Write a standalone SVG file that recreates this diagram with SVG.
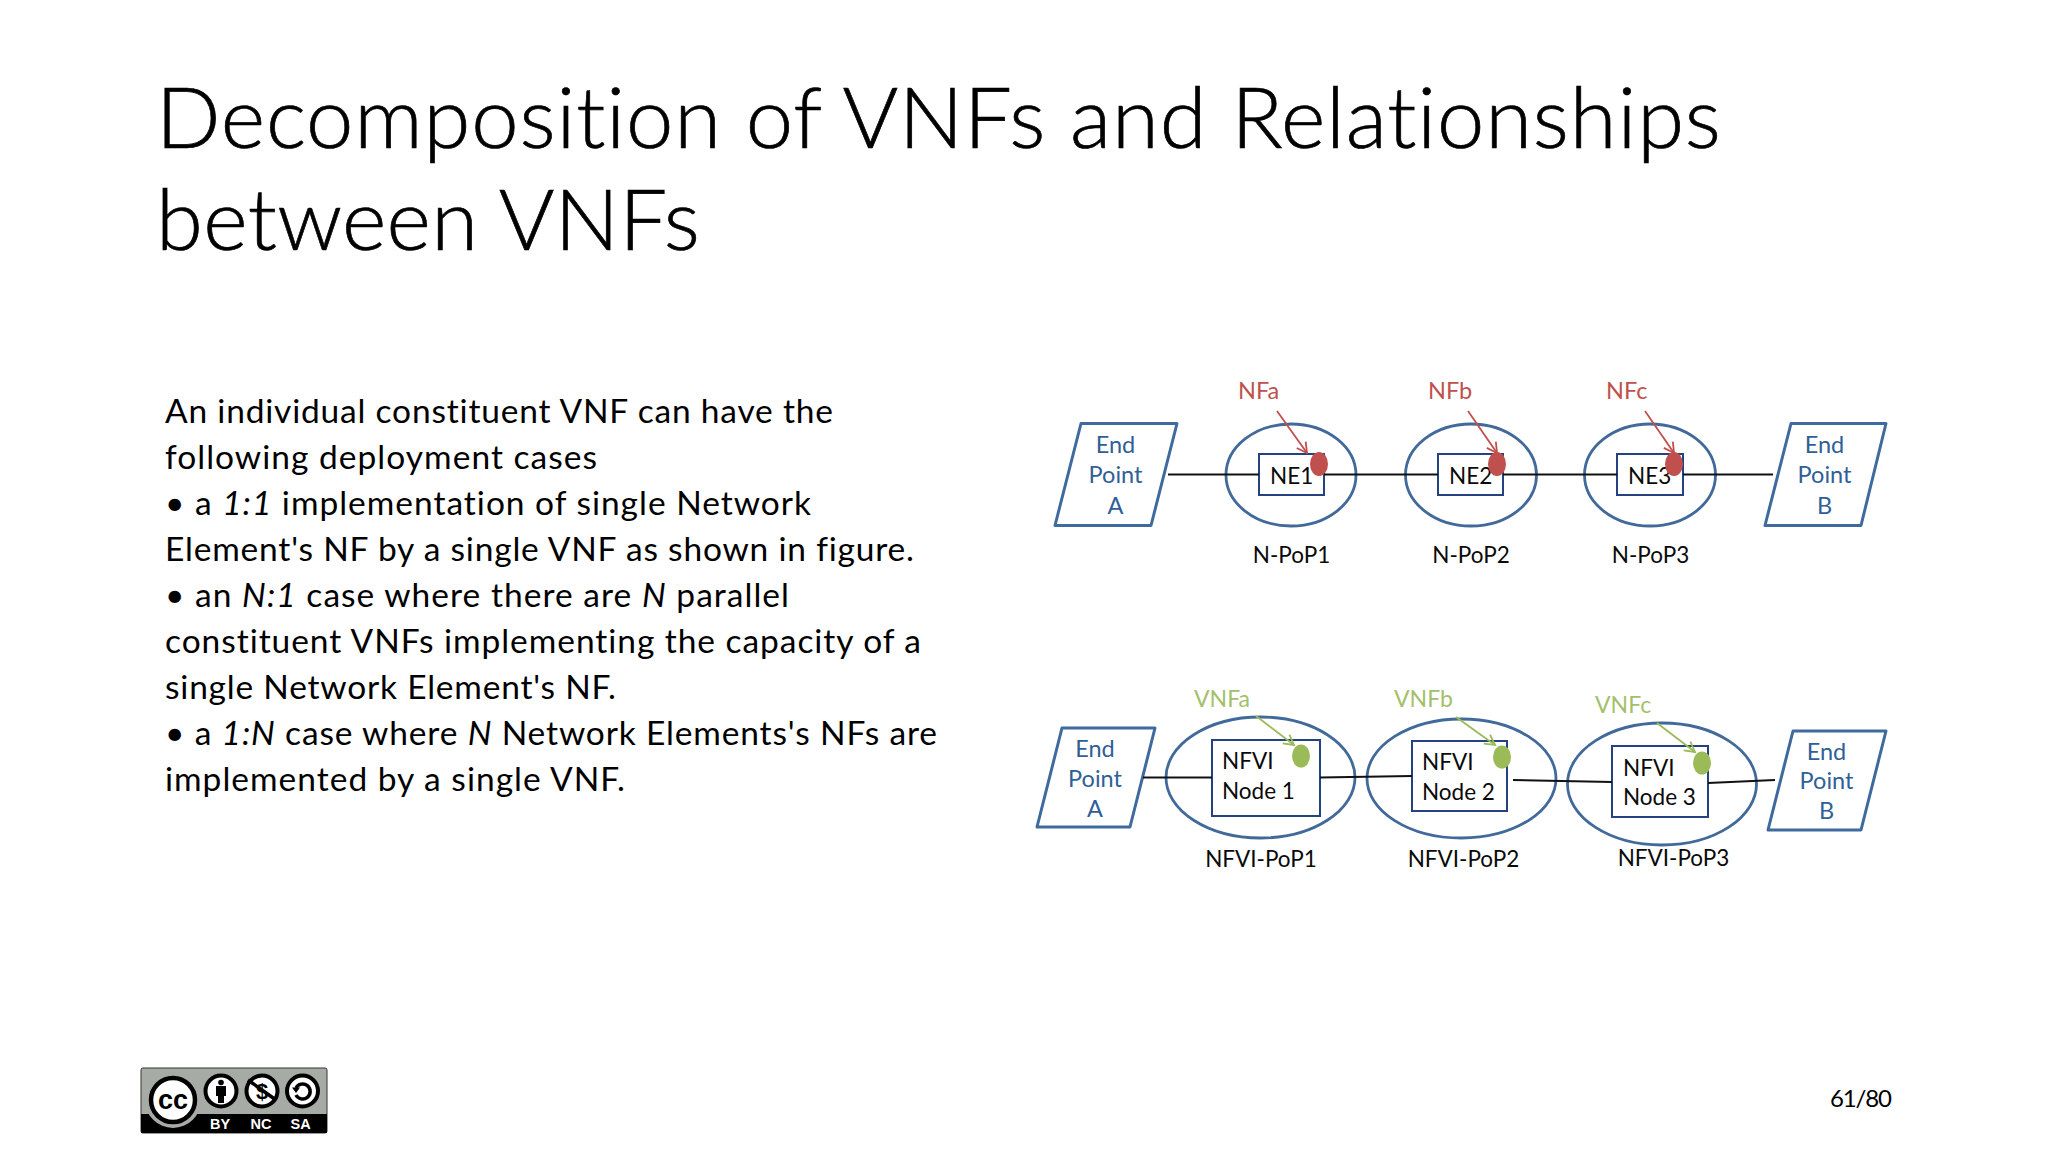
<svg xmlns="http://www.w3.org/2000/svg" width="2048" height="1152" viewBox="0 0 2048 1152">
<style>
text{font-family:Lato,"Noto Sans","Liberation Sans",sans-serif;fill:#000;font-variant-ligatures:none}
.title{font-size:85px;font-weight:300;stroke:#000;stroke-width:.7}
.body{font-size:33.5px}
.i{font-style:italic}
.pg{font-size:24px}
.ep{fill:#fff;stroke:#3f6a9e;stroke-width:3;stroke-linejoin:round}
.ept{font-size:23.5px;fill:#2f5f96;text-anchor:middle}
.pop{fill:none;stroke:#41699a;stroke-width:2.8}
.box{fill:#fff;stroke:#23427f;stroke-width:2}
.lbl{font-size:22.5px;fill:#0a0a0a}
.ctr{text-anchor:middle}
.red{fill:#c0504d}
.grn{fill:#9bbb59}
.redt{font-size:23.5px;fill:#c0504d}
.grnt{font-size:23px;fill:#a3bf6c}
.link{stroke:#111;stroke-width:2;fill:none}
.ra{stroke:#c0504d;stroke-width:1.8;fill:none;marker-end:url(#ah-r)}
.ga{stroke:#9bbb59;stroke-width:1.8;fill:none;marker-end:url(#ah-g)}
.cct{font-family:"Liberation Sans",Arial,sans-serif;font-weight:700;text-anchor:middle}
</style>
<defs>
<marker id="ah-r" markerUnits="userSpaceOnUse" markerWidth="16" markerHeight="16" refX="13" refY="8" orient="auto"><path d="M3 2.5L13 8L3 13.5" fill="none" stroke="#c0504d" stroke-width="1.8"/></marker>
<marker id="ah-g" markerUnits="userSpaceOnUse" markerWidth="16" markerHeight="16" refX="13" refY="8" orient="auto"><path d="M3 2.5L13 8L3 13.5" fill="none" stroke="#9bbb59" stroke-width="1.8"/></marker>
</defs>
<rect width="2048" height="1152" fill="#fff"/>

<g id="title">
<text class="title" x="156" y="148" textLength="1565">Decomposition of VNFs and Relationships</text>
<text class="title" x="156" y="250" textLength="544">between VNFs</text>
</g>
<g id="body">
<text class="body" x="165" y="422.500" textLength="668">An individual constituent VNF can have the</text>
<text class="body" x="165" y="468.500" textLength="432">following deployment cases</text>
<text class="body" x="165" y="514.500" textLength="646">• a <tspan class="i">1:1</tspan> implementation of single Network</text>
<text class="body" x="165" y="560.500" textLength="749">Element's NF by a single VNF as shown in figure.</text>
<text class="body" x="165" y="607" textLength="624">• an <tspan class="i">N:1</tspan> case where there are <tspan class="i">N</tspan> parallel</text>
<text class="body" x="165" y="653" textLength="756">constituent VNFs implementing the capacity of a</text>
<text class="body" x="165" y="698.500" textLength="451">single Network Element's NF.</text>
<text class="body" x="165" y="745" textLength="772">• a <tspan class="i">1:N</tspan> case where <tspan class="i">N</tspan> Network Elements's NFs are</text>
<text class="body" x="165" y="790.500" textLength="460">implemented by a single VNF.</text>
</g>

<g id="ep-a-top">
<polygon class="ep" points="1081,423.500 1177,423.500 1151,525.500 1055,525.500"/>
<text class="ept" x="1115.500" y="453">End</text><text class="ept" x="1115.500" y="483">Point</text><text class="ept" x="1115.500" y="514">A</text>
</g>
<g id="npop1">
<ellipse class="pop" cx="1291" cy="475" rx="65" ry="51"/>
<rect class="box" x="1259" y="454" width="65" height="41"/>
<text class="lbl" x="1270" y="484">NE1</text>
<ellipse class="red" cx="1319" cy="464" rx="9" ry="12"/>
<text class="redt" x="1238" y="399">NFa</text>
<text class="lbl ctr" x="1291.500" y="563">N-PoP1</text>
</g>
<g id="npop2">
<ellipse class="pop" cx="1471" cy="475" rx="65.500" ry="51"/>
<rect class="box" x="1438" y="454" width="65" height="41"/>
<text class="lbl" x="1449" y="484">NE2</text>
<ellipse class="red" cx="1497" cy="464" rx="9" ry="12"/>
<text class="redt" x="1428" y="399">NFb</text>
<text class="lbl ctr" x="1471" y="563">N-PoP2</text>
</g>
<g id="npop3">
<ellipse class="pop" cx="1650" cy="475" rx="65.500" ry="51"/>
<rect class="box" x="1617" y="454" width="66" height="41"/>
<text class="lbl" x="1628" y="484">NE3</text>
<ellipse class="red" cx="1674" cy="464" rx="9" ry="12"/>
<text class="redt" x="1606" y="399">NFc</text>
<text class="lbl ctr" x="1650.500" y="563">N-PoP3</text>
</g>
<g id="ep-b-top">
<polygon class="ep" points="1791,423.500 1886,423.500 1861,525.500 1765,525.500"/>
<text class="ept" x="1824.500" y="453">End</text><text class="ept" x="1824.500" y="483">Point</text><text class="ept" x="1824.500" y="514">B</text>
</g>

<g id="ep-a-bottom">
<polygon class="ep" points="1062,728 1155,728 1130,827 1037,827"/>
<text class="ept" x="1095" y="757">End</text><text class="ept" x="1095" y="787">Point</text><text class="ept" x="1095" y="817">A</text>
</g>
<g id="nfvi-pop1">
<ellipse class="pop" cx="1260.500" cy="777.500" rx="94.500" ry="60.500"/>
<rect class="box" x="1212" y="740" width="108" height="76"/>
<text class="lbl" x="1222" y="769">NFVI</text><text class="lbl" x="1222" y="799">Node 1</text>
<ellipse class="grn" cx="1301" cy="756" rx="9" ry="11.500"/>
<text class="grnt" x="1194" y="707">VNFa</text>
<text class="lbl ctr" x="1261" y="867">NFVI-PoP1</text>
</g>
<g id="nfvi-pop2">
<ellipse class="pop" cx="1461.500" cy="778.500" rx="94.500" ry="59.500"/>
<rect class="box" x="1412" y="741" width="95" height="70"/>
<text class="lbl" x="1422" y="770">NFVI</text><text class="lbl" x="1422" y="800">Node 2</text>
<ellipse class="grn" cx="1502" cy="757" rx="9" ry="11.500"/>
<text class="grnt" x="1394" y="707">VNFb</text>
<text class="lbl ctr" x="1463.500" y="867">NFVI-PoP2</text>
</g>
<g id="nfvi-pop3">
<ellipse class="pop" cx="1662" cy="784" rx="94.500" ry="61"/>
<rect class="box" x="1612" y="746" width="96" height="71"/>
<text class="lbl" x="1623" y="776">NFVI</text><text class="lbl" x="1623" y="805">Node 3</text>
<ellipse class="grn" cx="1702" cy="763" rx="9" ry="11.500"/>
<text class="grnt" x="1595" y="713">VNFc</text>
<text class="lbl ctr" x="1673.500" y="866">NFVI-PoP3</text>
</g>
<g id="ep-b-bottom">
<polygon class="ep" points="1793,731 1886,731 1861,830 1768,830"/>
<text class="ept" x="1826.500" y="760">End</text><text class="ept" x="1826.500" y="789">Point</text><text class="ept" x="1826.500" y="819">B</text>
</g>

<g id="connectors">
<path class="link" d="M1168 474.500H1259M1324 474.500H1438M1503 474.500H1617M1683 474.500H1773"/>
<path class="link" d="M1143 777.500H1212M1320 777.500L1412 776M1513 780L1612 782M1708 783L1775 780"/>
<path class="ra" d="M1277 411L1307 453"/>
<path class="ra" d="M1468 411L1497 453"/>
<path class="ra" d="M1645 411L1674 453"/>
<path class="ga" d="M1256 716L1294 745"/>
<path class="ga" d="M1456 717L1495 745"/>
<path class="ga" d="M1657 723L1695 752"/>
</g>

<g id="page-number"><text class="pg" x="1830" y="1107" textLength="62">61/80</text></g>

<g id="cc-badge">
<rect x="141" y="1068" width="186" height="65" rx="2" fill="#a7aba6" stroke="#333" stroke-width="1"/>
<rect x="141" y="1114" width="186" height="19" fill="#000"/>
<circle cx="173" cy="1100" r="28" fill="#a7aba6"/>
<circle cx="173" cy="1100" r="22" fill="#fff" stroke="#000" stroke-width="4.500"/>
<text class="cct" x="173" y="1109" font-size="27" style="fill:#000">cc</text>
<circle cx="221" cy="1091" r="15.500" fill="#fff" stroke="#000" stroke-width="4"/>
<circle cx="221" cy="1082.500" r="2.800" fill="#000"/>
<path d="M216 1086H226V1096H224V1103H218V1096H216Z" fill="#000"/>
<circle cx="262" cy="1091" r="15.500" fill="#fff" stroke="#000" stroke-width="4"/>
<text class="cct" x="262" y="1098.500" font-size="22" style="fill:#000">$</text>
<path d="M248 1080L276 1100" stroke="#000" stroke-width="3.500"/>
<circle cx="302.500" cy="1091" r="15.500" fill="#fff" stroke="#000" stroke-width="4"/>
<path d="M296 1088A7.500 7.500 0 1 1 296 1095" fill="none" stroke="#000" stroke-width="3.500"/>
<path d="M292 1087.500H300L296 1093Z" fill="#000"/>
<text class="cct" x="220" y="1129.300" font-size="14.500" style="fill:#fff">BY</text>
<text class="cct" x="261" y="1129.300" font-size="14.500" style="fill:#fff">NC</text>
<text class="cct" x="300.700" y="1129.300" font-size="14.500" style="fill:#fff">SA</text>
</g>
</svg>
